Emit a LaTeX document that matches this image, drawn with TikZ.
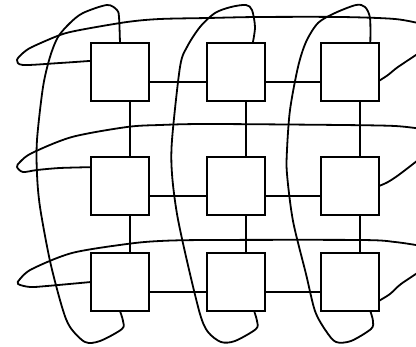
\documentclass[tikz,border=0pt]{standalone}
\usetikzlibrary{positioning}
\begin{document}
\begin{tikzpicture}[x=1pt,y=-1pt,node distance=56pt]
  \tikzstyle{box}=[draw,line width=1.8pt,minimum size=58pt,inner sep=0pt,outer sep=0pt]
  \tikzstyle{link}=[line width=1.8pt]
  \tikzstyle{wrap}=[line width=1.8pt,line join=round]
  \useasboundingbox (0,0) rectangle (416,347);
  \node[box] (n11) at (120,72) {};
  \node[box,right=58pt of n11] (n12) {};
  \node[box,right=56pt of n12] (n13) {};
  \node[box,below=56pt of n11] (n21) {};
  \node[box,below=56pt of n12] (n22) {};
  \node[box,below=56pt of n13] (n23) {};
  \node[box,below=38pt of n21] (n31) {};
  \node[box,below=38pt of n22] (n32) {};
  \node[box,below=38pt of n23] (n33) {};
  \coordinate (row1) at (422,24);
  \coordinate (row2) at (422,129);
  \coordinate (row3) at (422,246);
  \coordinate (back1) at (422,51);
  \coordinate (back2) at (422,157);
  \coordinate (back3) at (422,270);
  \draw[link] (n11.-19) -- (n12.-161);
  \draw[link] (n12.-19) -- (n13.-161);
  \draw[link] (n21.-19) -- (n22.-161);
  \draw[link] (n22.-19) -- (n23.-161);
  \draw[link] (n31.-19) -- (n32.-161);
  \draw[link] (n32.-19) -- (n33.-161);
  \draw[link] (n11.-71) -- (n21.71);
  \draw[link] (n21.-71) -- (n31.71);
  \draw[link] (n12.-71) -- (n22.71);
  \draw[link] (n22.-71) -- (n32.71);
  \draw[link] (n13.-71) -- (n23.71);
  \draw[link] (n23.-71) -- (n33.71);
  \draw[wrap] plot[smooth,tension=0.5] coordinates {(n11.159) (60,63) (23,65) (17,60) (23,53) (32,47) (60,35) (80,30) (127,22) (160,19) (208,18) (258,17) (341,17) (395,19) (row1)};
  \draw[wrap] plot[smooth,tension=0.5] coordinates {(n21.147) (60,168) (37,170) (23,172) (17,167) (20,162) (32,153) (72,137) (127,127) (160,125) (208,124) (341,125) (395,126) (row2)};
  \draw[wrap] plot[smooth,tension=0.5] coordinates {(n31.west) (47,286) (30,287) (18,284) (20,279) (32,269) (72,253) (127,244) (160,241) (208,240) (361,240) (395,242) (row3)};
  \draw[wrap] plot[smooth,tension=0.5] coordinates {(n13.-17) (388,75) (398,67) (back1)};
  \draw[wrap] plot[smooth,tension=0.5] coordinates {(n23.east) (388,182) (400,174) (back2)};
  \draw[wrap] plot[smooth,tension=0.5] coordinates {(n33.-33) (390,294) (401,284) (back3)};
  \draw[wrap] plot[smooth,tension=0.5] coordinates {(n11.north) (119,17) (117,10) (107,5) (83,13) (70,23) (58,37) (50,57) (43,87) (37,140) (37,174) (40,207) (50,261) (62,307) (70,327) (85,342) (100,341) (122,329) (123,321) (n31.south)};
  \draw[wrap] plot[smooth,tension=0.5] coordinates {(n12.60) (255,27) (252,10) (246,5) (231,7) (215,13) (200,27) (187,47) (180,67) (172,140) (172,174) (177,214) (187,261) (200,314) (208,332) (221,342) (235,341) (256,329) (257,321) (n32.-58)};
  \draw[wrap] plot[smooth,tension=0.5] coordinates {(n13.55) (370,18) (365,7) (356,5) (335,13) (318,23) (306,42) (298,67) (290,110) (287,150) (287,174) (293,221) (306,274) (315,311) (326,331) (336,342) (351,341) (371,329) (373,321) (n33.-55)};
\end{tikzpicture}
\end{document}
